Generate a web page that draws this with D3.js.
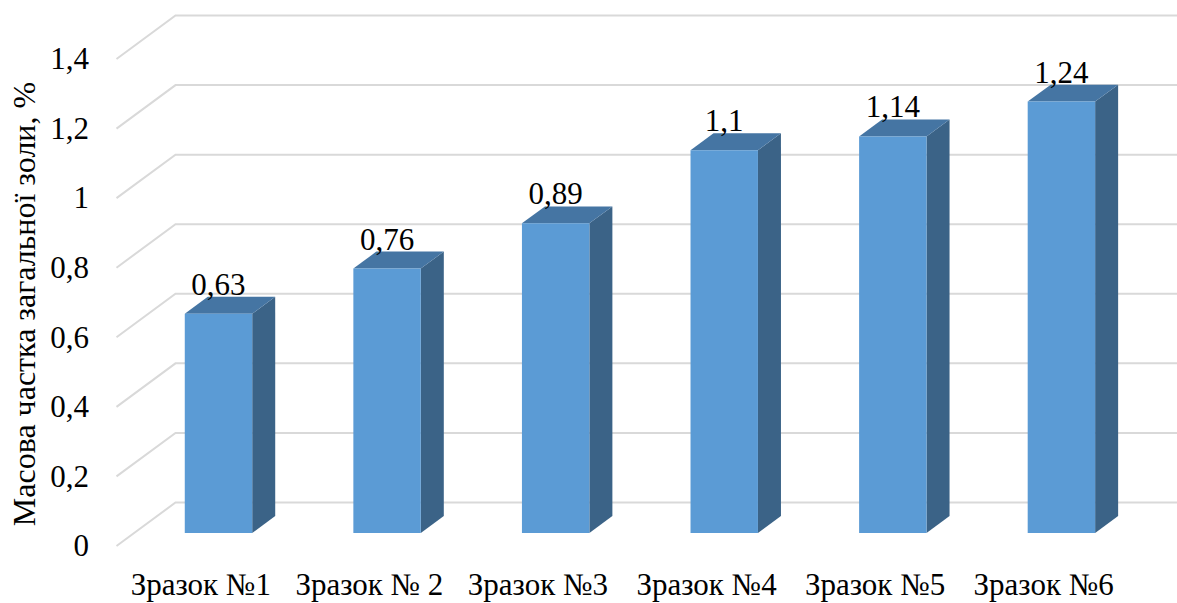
<!DOCTYPE html>
<html>
<head>
<meta charset="utf-8">
<script src="https://cdn.jsdelivr.net/npm/d3@7"></script>
<style>
  html, body { margin: 0; padding: 0; background: #fff; }
  svg { display: block; }
</style>
</head>
<body>
<svg id="chart" width="1177" height="603"></svg>
<script>
// Ash content of samples
const categories = ["Зразок №1", "Зразок № 2", "Зразок №3", "Зразок №4", "Зразок №5", "Зразок №6"];
const values = [0.63, 0.76, 0.89, 1.1, 1.14, 1.24];
const valueLabels = ["0,63", "0,76", "0,89", "1,1", "1,14", "1,24"];
const yTicks = [0, 0.2, 0.4, 0.6, 0.8, 1.0, 1.2, 1.4];
const yTickLabels = ["0", "0,2", "0,4", "0,6", "0,8", "1", "1,2", "1,4"];
const yTitle = "Масова частка загальної золи, %";

const FONT = '"Liberation Serif"';
const FS = "31px";

const svg = d3.select("#chart");

// Front plane of the 3D box and the depth vector to its back wall
const frontLeft = 116.5, frontRight = 1128;
const depthX = 59, depthY = -43.5;

const x = d3.scaleBand().domain(categories).range([frontLeft, frontRight]).paddingInner(0).paddingOuter(0);
const y = d3.scaleLinear().domain([0, 1.4]).range([546, 59]);

// project a point (xFront, value) at relative depth d (0 = front, 1 = back)
const P = (px, v, d) => [px + depthX * d, y(v) + depthY * d];

// Gridlines: diagonal along the side wall, then horizontal along the back wall
const grid = svg.append("g");
yTicks.forEach(t => {
  const a = P(frontLeft, t, 0), b = P(frontLeft, t, 1), c = P(frontRight, t, 1);
  grid.append("path")
    .attr("d", d3.line()([a, b, c]))
    .attr("fill", "none")
    .attr("stroke", "#d9d9d9")
    .attr("stroke-width", 2);
});

// Y tick labels
svg.append("g").selectAll("text").data(yTicks).join("text")
  .attr("x", 89)
  .attr("y", d => y(d))
  .attr("dy", "0.33em")
  .attr("text-anchor", "end")
  .style("font-family", FONT)
  .style("font-size", FS)
  .attr("fill", "#000")
  .text((d, i) => yTickLabels[i]);

// Y axis title
svg.append("text")
  .attr("transform", `translate(${35},${304}) rotate(-90)`)
  .attr("text-anchor", "middle")
  .style("font-family", FONT)
  .style("font-size", "32px")
  .attr("fill", "#000")
  .text(yTitle);

// Bars as 3D boxes
const barFrac = 0.4;
const d0 = 0.3, d1 = 0.69;
const bars = svg.append("g");
categories.forEach((c, i) => {
  const bw = x.bandwidth() * barFrac;
  const xl = x(c) + (x.bandwidth() - bw) / 2;
  const xr = xl + bw;
  const v = values[i];
  const pts = (arr) => arr.map(p => p.join(",")).join(" ");
  // right side face
  bars.append("polygon")
    .attr("points", pts([P(xr, 0, d0), P(xr, 0, d1), P(xr, v, d1), P(xr, v, d0)]))
    .attr("fill", "#3b6387");
  // top face
  bars.append("polygon")
    .attr("points", pts([P(xl, v, d0), P(xr, v, d0), P(xr, v, d1), P(xl, v, d1)]))
    .attr("fill", "#4575a3");
  // front face
  bars.append("polygon")
    .attr("points", pts([P(xl, 0, d0), P(xr, 0, d0), P(xr, v, d0), P(xl, v, d0)]))
    .attr("fill", "#5b9bd5");
  // value label above the bar
  const top = P((xl + xr) / 2, v, d1);
  bars.append("text")
    .attr("x", P((xl + xr) / 2, v, d0)[0])
    .attr("y", top[1] - 2)
    .attr("text-anchor", "middle")
    .style("font-family", FONT)
    .style("font-size", FS)
    .attr("fill", "#000")
    .text(valueLabels[i]);
});

// Category labels
svg.append("g").selectAll("text").data(categories).join("text")
  .attr("x", d => x(d) + x.bandwidth() / 2)
  .attr("y", 595)
  .attr("text-anchor", "middle")
  .style("font-family", FONT)
  .style("font-size", FS)
  .attr("fill", "#000")
  .text(d => d);
</script>
</body>
</html>
